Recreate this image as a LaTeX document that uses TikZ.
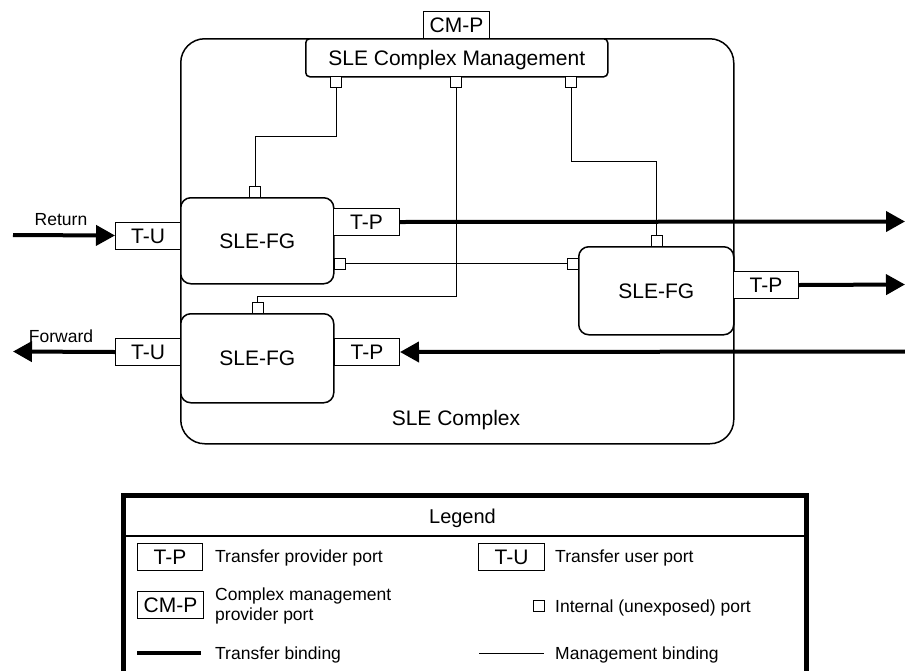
\documentclass[tikz,border=0pt]{standalone}
\usepackage{fontspec}
\setmainfont{Liberation Sans}
\usetikzlibrary{arrows.meta}
\begin{document}
\begin{tikzpicture}[x=1pt,y=-1pt,
  big/.style={font=\fontsize{21}{25}\selectfont, text height=15pt, text depth=0pt},
  small/.style={font=\fontsize{17.5}{20.5}\selectfont, inner sep=0pt, text height=12.5pt, text depth=0pt},
  smallml/.style={font=\fontsize{17.5}{20.5}\selectfont, inner sep=0pt, align=left},
  port/.style={draw, line width=1pt, fill=white, inner sep=0pt, minimum width=65pt, minimum height=27pt, anchor=north west, big},
  iport/.style={draw, line width=0.8pt, fill=white, inner sep=0pt, minimum size=11pt},
  fgbox/.style={draw, line width=1.5pt, fill=white, rounded corners=10pt, inner sep=0pt, anchor=north west, big},
  mgmt/.style={line width=0.8pt},
  xfer/.style={line width=4pt},
  tip/.style={-{Triangle[length=19pt,width=20pt]}},
]
\fill[white] (0,0) rectangle (905,670);
\useasboundingbox (0,0) rectangle (905,670);

% complex
\node[draw, line width=1.5pt, rounded corners=24pt, minimum width=553pt, minimum height=405pt, anchor=north west, inner sep=0pt] (cplx) at (180,38) {};
\node[big] (cplxlabel) at (456,418) {SLE Complex};

% management
\node[draw, fill=white, line width=1.5pt, rounded corners=4pt, minimum width=302pt, minimum height=38pt, anchor=north west, inner sep=0pt, big] (cm) at (305,38) {SLE Complex Management};
\node[port, minimum width=66pt] (cmp) at (423,11) {CM-P};

% functional groups
\node[fgbox, minimum width=153pt, minimum height=86pt] (fg1) at (180,197) {SLE-FG};
\node[fgbox, minimum width=155pt, minimum height=88pt] (fg2) at (578,246) {SLE-FG};
\node[fgbox, minimum width=153pt, minimum height=89pt] (fg3) at (180,313) {SLE-FG};

% transfer ports
\node[port] (tu1) at (115,221.5) {T-U};
\node[port, minimum width=66pt] (tp1) at (333,208) {T-P};
\node[port] (tp2) at (733,271) {T-P};
\node[port] (tu3) at (115,338) {T-U};
\node[port] (tp3) at (334,338) {T-P};

% internal ports
\node[iport] (p1) at (336,81.5) {};
\node[iport] (p2) at (456,81.5) {};
\node[iport] (p3) at (571,81.5) {};
\node[iport] (q1) at (255,191.5) {};
\node[iport] (q1r) at (339.5,263.5) {};
\node[iport] (q2l) at (573,263.5) {};
\node[iport] (q2t) at (656.5,240.5) {};
\node[iport] (q3t) at (257.5,307.5) {};

% management bindings
\draw[mgmt] (p1.south) -- ++(0,49) -| (q1.north);
\draw[mgmt] (p2.south) -- ++(0,209) -| (q3t.north);
\draw[mgmt] (p3.south) -- ++(0,74) -| (q2t.north);
\draw[mgmt] (q1r.east) -- (q2l.west);

% transfer bindings
\coordinate (retin) at (13,235);
\draw[xfer,tip] (retin) -- (tu1.west);
\node[small] (retlbl) at (61,219) {Return};
\coordinate (out1) at (905,221.5);
\draw[xfer,tip] (tp1.east) -- (out1);
\coordinate (out2) at (905,284.5);
\draw[xfer,tip] (tp2.east) -- (out2);
\coordinate (in3) at (905,351.5);
\draw[xfer,tip] (in3) -- (tp3.east);
\coordinate (fwd) at (13,351.5);
\draw[xfer,tip] (tu3.west) -- (fwd);
\node[small] (fwdlbl) at (61,336) {Forward};

% legend
\node[draw, line width=4.5pt, minimum width=683pt, minimum height=220pt, anchor=north west, inner sep=0pt] (legend) at (121,493) {};
\coordinate (sepL) at (121,536);
\coordinate (sepR) at (804,536);
\draw[line width=1.5pt] (sepL) -- (sepR);
\node[font=\fontsize{20}{24}\selectfont, text height=14.5pt, text depth=0pt, inner sep=0pt] (legtitle) at (462.5,516.5) {Legend};

\node[port] (ltp) at (137,543) {T-P};
\node[small, anchor=west] (ltptxt) at (215,556.5) {Transfer provider port};
\node[port, minimum width=66pt] (ltu) at (478,543) {T-U};
\node[small, anchor=west] (ltutxt) at (555,556.5) {Transfer user port};
\node[port, minimum width=66pt] (lcmp) at (137,591) {CM-P};
\node[smallml, anchor=west] (lcmptxt) at (215,606) {Complex management\\provider port};
\node[iport] (lip) at (538.5,606) {};
\node[small, anchor=west] (liptxt) at (555,606) {Internal (unexposed) port};
\coordinate (ltb1) at (137,653);
\coordinate (ltb2) at (201,653);
\draw[xfer] (ltb1) -- (ltb2);
\node[small, anchor=west] (ltbtxt) at (215,653) {Transfer binding};
\coordinate (lmb1) at (479,653);
\coordinate (lmb2) at (544,653);
\draw[mgmt] (lmb1) -- (lmb2);
\node[small, anchor=west] (lmbtxt) at (555,653) {Management binding};
\end{tikzpicture}
\end{document}
